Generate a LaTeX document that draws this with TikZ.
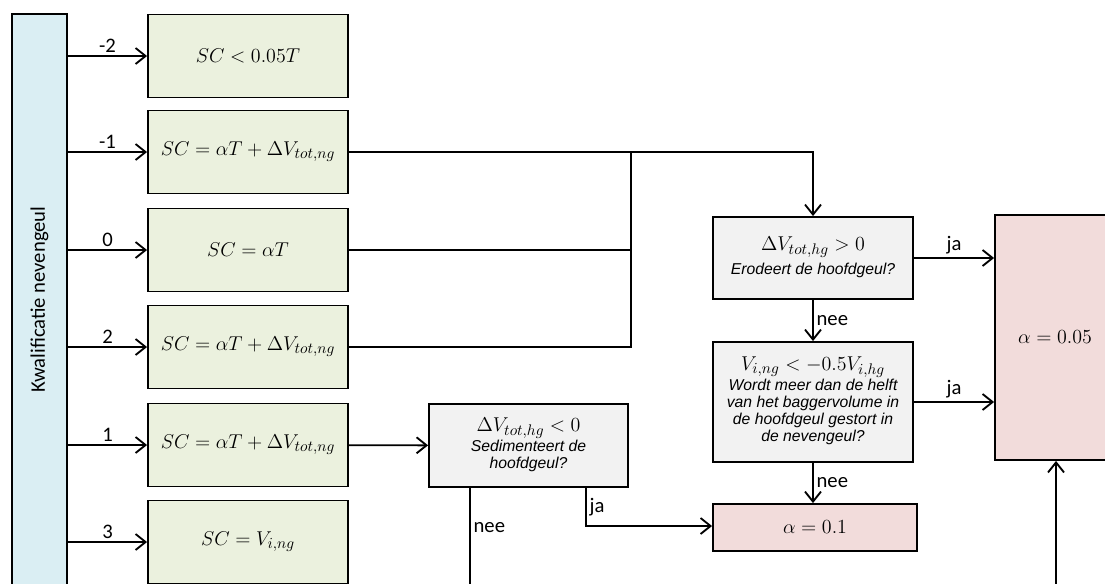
\RequirePackage{fix-cm}
\documentclass[tikz,border=0pt]{standalone}
\usepackage{amsmath}
\usepackage[no-math]{fontspec}
\setmainfont{Carlito}
\newfontfamily\askfont{Liberation Sans}
\usepackage{xcolor}
\usepackage{tikz}
\usetikzlibrary{arrows.meta, positioning}

\DeclareMathSizes{15}{15}{11.5}{9}

\definecolor{kwalblue}{HTML}{DAEEF3}
\definecolor{scgreen}{HTML}{EBF1DE}
\definecolor{askgray}{HTML}{F2F2F2}
\definecolor{alphapink}{HTML}{F2DCDB}

\newcommand{\askq}[1]{{\askfont\itshape\fontsize{11.8}{12.8}\selectfont\begin{tabular}{@{}c@{}}#1\end{tabular}}}

\begin{document}
\begin{tikzpicture}[
    x=0.75pt, y=-0.75pt,
    line width=1.4pt,
    box/.style={draw, line width=1.4pt, align=center, inner sep=2pt, font=\fontsize{15}{18}\selectfont},
    scbox/.style={box, fill=scgreen, minimum width=150pt, minimum height=62.25pt},
    askbox/.style={box, fill=askgray, minimum width=150pt},
    alphabox/.style={box, fill=alphapink},
    lbl/.style={font=\fontsize{15.5}{17}\selectfont, inner sep=2pt},
    >={Straight Barb[length=7.5pt, width=12pt]}
]

\useasboundingbox (0,0) rectangle (1105,583);
\clip (0,0) rectangle (1105,583);

% kwalificatie en de zes gevallen
\node[box, fill=kwalblue, minimum width=41.25pt, minimum height=428.25pt, font=\fontsize{15.5}{17}\selectfont] (kwal) at (39.5,299.5) {\rotatebox{90}{Kwalificatie nevengeul}};

\node[scbox] (scmtwo) at (248,56) {$SC < 0.05T$};
\node[scbox] (scmone) at (248,152) {$SC = \alpha T + \Delta V_{tot,ng}$};
\node[scbox] (sczero) at (248,250) {$SC = \alpha T$};
\node[scbox] (scptwo) at (248,347) {$SC = \alpha T + \Delta V_{tot,ng}$};
\node[scbox] (scpone) at (248,445) {$SC = \alpha T + \Delta V_{tot,ng}$};
\node[scbox] (scpthree) at (248,542) {$SC = V_{i,ng}$};

\draw[->] (kwal.east |- scmtwo) -- node[lbl, above] {-2} (scmtwo);
\draw[->] (kwal.east |- scmone) -- node[lbl, above] {-1} (scmone);
\draw[->] (kwal.east |- sczero) -- node[lbl, above] {0} (sczero);
\draw[->] (kwal.east |- scptwo) -- node[lbl, above] {2} (scptwo);
\draw[->] (kwal.east |- scpone) -- node[lbl, above] {1} (scpone);
\draw[->] (kwal.east |- scpthree) -- node[lbl, above] {3} (scpthree);

% vragen over de hoofdgeul
\node[askbox, minimum height=61.5pt] (erodeert) at (813,258)
    {$\Delta V_{tot,hg} > 0$\\ \askq{Erodeert de hoofdgeul?}};
\node[askbox, minimum height=90pt] (gestort) at (813,402)
    {$V_{i,ng} < -0.5V_{i,hg}$\\ \askq{Wordt meer dan de helft\\ van het baggervolume in\\ de hoofdgeul gestort in\\ de nevengeul?}};
\node[askbox, minimum width=149.25pt, minimum height=62.25pt] (sedim) at (528.5,445.5)
    {$\Delta V_{tot,hg} < 0$\\ \askq{Sedimenteert de\\ hoofdgeul?}};

% uitkomsten
\node[alphabox, minimum width=153pt, minimum height=35.25pt] (alfaeen) at (815,527.5) {$\alpha = 0.1$};
\node[alphabox, minimum width=90pt, minimum height=183.75pt] (alfavijf) at (1055,337.5) {$\alpha = 0.05$};

\coordinate (samen) at (631,152);
\coordinate (jaknik) at (586,526);
\coordinate (neeuit) at (470,600);
\coordinate (onder) at (1056,600);

\draw (scmone.east) -- (samen);
\draw (sczero.east) -- (sczero.east -| samen);
\draw (scptwo.east) -- (scptwo.east -| samen) -- (samen);
\draw[->] (samen) -| (erodeert);

\draw[->] (scpone) -- (sedim);
\draw[->] (sedim.south -| jaknik) -- node[lbl, right] {ja} (jaknik) -- (jaknik -| alfaeen.west);
\draw (sedim.south -| neeuit) -- node[lbl, right, pos=0.35] {nee} (neeuit);

\draw[->] (erodeert.east) -- node[lbl, above] {ja} (erodeert.east -| alfavijf.west);
\draw[->] (erodeert) -- node[lbl, right] {nee} (gestort);
\draw[->] (gestort.east) -- node[lbl, above] {ja} (gestort.east -| alfavijf.west);
\draw[->] (gestort.south) -- node[lbl, right] {nee} (gestort.south |- alfaeen.north);
\draw[->] (onder) -- (onder |- alfavijf.south);

\end{tikzpicture}
\end{document}
